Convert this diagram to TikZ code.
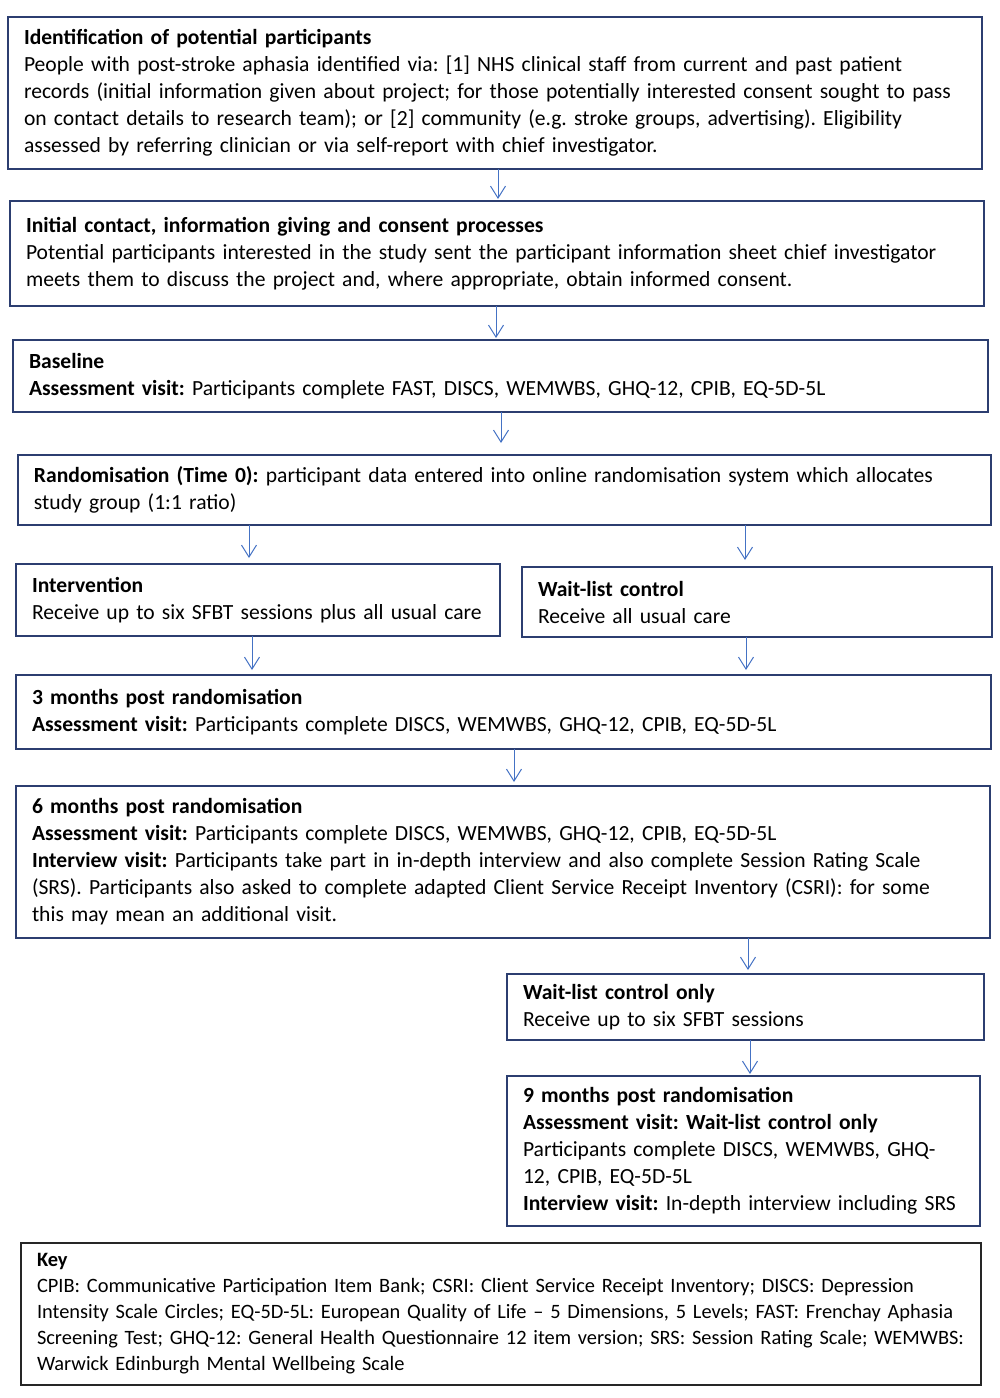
\documentclass[tikz,border=0pt]{standalone}
\usepackage{fontspec}
\setmainfont{Carlito}
\usetikzlibrary{positioning,arrows.meta}
\definecolor{boxblue}{RGB}{44,62,112}
\definecolor{arrblue}{RGB}{68,114,196}
\frenchspacing

\begin{document}
\begin{tikzpicture}[x=1pt, y=-1pt,
     node distance = 32pt and 22pt,
      stage/.style = {rectangle, draw=boxblue, line width=1.8pt, outer sep=0pt,
                      inner xsep=16pt, inner ysep=0pt, align=left,
                      font=\fontsize{21.6}{27}\selectfont},
     keybox/.style = {stage, draw=black!85, font=\fontsize{20.4}{26}\selectfont},
        arr/.style = {draw=arrblue, line width=1pt, -{Straight Barb[length=12pt,width=15pt]}}
                    ]
\useasboundingbox (0,0) rectangle (1000,1398);
\node (ident) [stage, anchor=north west, minimum width=974pt, minimum height=152pt, text width=942pt] at (8,17)
  {\textbf{Identification of potential participants}\\
   People with post-stroke aphasia identified via: [1] NHS clinical staff from current and past patient\\
   records (initial information given about project; for those potentially interested consent sought to pass\\
   on contact details to research team); or [2] community (e.g. stroke groups, advertising). Eligibility\\
   assessed by referring clinician or via self-report with chief investigator.};
\node (init) [stage, below=32pt of ident.south west, anchor=north west, xshift=2pt,
              minimum width=974pt, minimum height=105pt, text width=942pt]
  {\textbf{Initial contact, information giving and consent processes}\\
   Potential participants interested in the study sent the participant information sheet chief investigator\\
   meets them to discuss the project and, where appropriate, obtain informed consent.};
\node (base) [stage, below=34pt of init.south west, anchor=north west, xshift=3pt,
              minimum width=975pt, minimum height=72pt, text width=943pt]
  {\textbf{Baseline}\\
   \textbf{Assessment visit:} Participants complete FAST, DISCS, WEMWBS, GHQ-12, CPIB, EQ-5D-5L};
\node (rand) [stage, below=43pt of base.south west, anchor=north west, xshift=5pt,
              minimum width=973pt, minimum height=70pt, text width=941pt]
  {\textbf{Randomisation (Time 0):} participant data entered into online randomisation system which allocates\\
   study group (1:1 ratio)};
\node (interv) [stage, below=39pt of rand.south west, anchor=north west, xshift=-2pt,
              minimum width=484pt, minimum height=72pt, text width=452pt]
  {\textbf{Intervention}\\
   Receive up to six SFBT sessions plus all usual care};
\node (wait) [stage, right=22pt of interv.north east, anchor=north west, yshift=-3pt,
              minimum width=470pt, minimum height=70pt, text width=438pt]
  {\textbf{Wait-list control}\\
   Receive all usual care};
\node (three) [stage, below=39pt of interv.south west, anchor=north west,
              minimum width=975pt, minimum height=74pt, text width=943pt]
  {\textbf{3 months post randomisation}\\
   \textbf{Assessment visit:} Participants complete DISCS, WEMWBS, GHQ-12, CPIB, EQ-5D-5L};
\node (six) [stage, below=37pt of three.south west, anchor=north west,
              minimum width=974pt, minimum height=152pt, text width=942pt]
  {\textbf{6 months post randomisation}\\
   \textbf{Assessment visit:} Participants complete DISCS, WEMWBS, GHQ-12, CPIB, EQ-5D-5L\\
   \textbf{Interview visit:} Participants take part in in-depth interview and also complete Session Rating Scale\\
   (SRS). Participants also asked to complete adapted Client Service Receipt Inventory (CSRI): for some\\
   this may mean an additional visit.};
\node (waitonly) [stage, below=36pt of six.south west, anchor=north west, xshift=491pt,
              minimum width=477pt, minimum height=66pt, text width=445pt]
  {\textbf{Wait-list control only}\\
   Receive up to six SFBT sessions};
\node (nine) [stage, below=36pt of waitonly.south west, anchor=north west,
              minimum width=473pt, minimum height=150pt, text width=441pt]
  {\textbf{9 months post randomisation}\\
   \textbf{Assessment visit: Wait-list control only}\\
   Participants complete DISCS, WEMWBS, GHQ-\\
   12, CPIB, EQ-5D-5L\\
   \textbf{Interview visit:} In-depth interview including SRS};
\node (key) [keybox, anchor=north west, minimum width=960pt, minimum height=142pt, text width=928pt] at (21,1243)
  {\textbf{Key}\\
   \mbox{CPIB: Communicative Participation Item Bank; CSRI: Client Service Receipt Inventory; DISCS: Depression}\\
   \mbox{Intensity Scale Circles; EQ-5D-5L: European Quality of Life -- 5 Dimensions, 5 Levels; FAST: Frenchay Aphasia}\\
   \mbox{Screening Test; GHQ-12: General Health Questionnaire 12 item version; SRS: Session Rating Scale; WEMWBS:}\\
   Warwick Edinburgh Mental Wellbeing Scale};
% arrows between stages
\draw[arr] ([xshift=490pt]ident.south west) -- ([xshift=488pt,yshift=2pt]init.north west);
\draw[arr] ([xshift=486pt]init.south west) -- ([xshift=483pt,yshift=2pt]base.north west);
\draw[arr] ([xshift=488pt]base.south west) -- ([xshift=483pt,yshift=12pt]rand.north west);
\draw[arr] ([xshift=231pt]rand.south west) -- ([xshift=233pt,yshift=6pt]interv.north west);
\draw[arr] ([xshift=727pt]rand.south west) -- ([xshift=223pt,yshift=7pt]wait.north west);
\draw[arr] ([xshift=236pt]interv.south west) -- ([xshift=236pt,yshift=5pt]three.north west);
\draw[arr] ([xshift=224pt]wait.south west) -- ([xshift=730pt,yshift=5pt]three.north west);
\draw[arr] ([xshift=498pt]three.south west) -- ([xshift=498pt,yshift=4pt]six.north west);
\draw[arr] ([xshift=732pt]six.south west) -- ([xshift=241pt,yshift=4pt]waitonly.north west);
\draw[arr] ([xshift=243pt]waitonly.south west) -- ([xshift=243pt,yshift=2pt]nine.north west);
\end{tikzpicture}
\end{document}
